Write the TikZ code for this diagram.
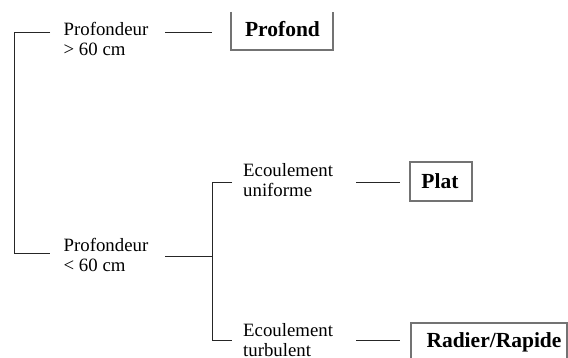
\documentclass[tikz,border=0pt]{standalone}
\usepackage{fontspec}
\setmainfont{Liberation Serif}
\newfontfamily\tnr{Liberation Serif}
\begin{document}
\begin{tikzpicture}[x=1pt,y=-1pt,
  lbl/.style={anchor=base west,inner sep=0pt,align=left,font=\tnr\fontsize{18.8}{20}\selectfont},
  res/.style={anchor=base,inner sep=0pt,font=\tnr\fontsize{21.5}{24}\selectfont\bfseries},
  conn/.style={draw=black!85,line width=0.9pt},
  frame/.style={draw=black!55,line width=1.1pt,inner sep=0pt}]
\useasboundingbox (0,0) rectangle (568,358);
\fill[white] (0,0) rectangle (568,358);
\begin{scope}
\clip (0,0) rectangle (568,358);
% labels (base anchor = baseline of the last line)
\node[lbl] (p1) at (63.5,56) {Profondeur\\> 60 cm};
\node[lbl] (p2) at (63.5,272) {Profondeur\\< 60 cm};
\node[lbl] (e1) at (243,196.5) {Ecoulement\\uniforme};
\node[lbl] (e2) at (243,356.5) {Ecoulement\\turbulent};
% results
\node[res] (profond) at (282.5,37) {Profond};
\node[res] (plat) at (440,189) {Plat};
\node[res] (radier) at (494,347) {Radier/Rapide};
% frames
\node[frame,minimum width=62pt,minimum height=39pt] (platbox) at (441,181.5) {};
\node[frame,minimum width=156pt,minimum height=50pt] (radierbox) at (489,348) {};
\draw[frame] (231,12) -- (231,50) -- (333,50) -- (333,12);
% connectors
\coordinate (b1t) at (14,32);
\coordinate (b1b) at (14,253);
\coordinate (p1l) at (50,32);
\coordinate (p2l) at (50,253);
\draw[conn] (p1l) -- (b1t) -- (b1b) -- (p2l);
\coordinate (p1r) at (165,32);
\coordinate (pr1) at (212,32);
\draw[conn] (p1r) -- (pr1);
\coordinate (p2r) at (165,256);
\coordinate (b2m) at (212,256);
\draw[conn] (p2r) -- (b2m);
\coordinate (b2t) at (212,182);
\coordinate (b2b) at (212,340);
\coordinate (e1l) at (232,182);
\coordinate (e2l) at (232,340);
\draw[conn] (e1l) -- (b2t) -- (b2b) -- (e2l);
\coordinate (e1r) at (356,182);
\coordinate (e1p) at (400,182);
\draw[conn] (e1r) -- (e1p);
\coordinate (e2r) at (356,340);
\coordinate (e2p) at (400,340);
\draw[conn] (e2r) -- (e2p);
\end{scope}
\end{tikzpicture}
\end{document}
